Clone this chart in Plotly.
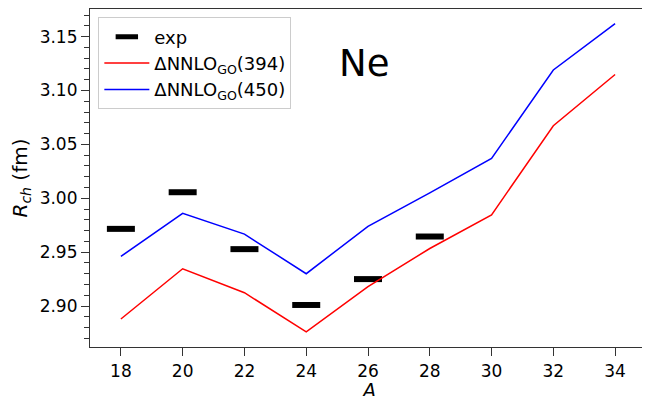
import plotly.graph_objects as go

A = [18, 20, 22, 24, 26, 28, 30, 32, 34]
A_exp = [18, 20, 22, 24, 26, 28]
R_exp = [2.9716, 3.0056, 2.9528, 2.9010, 2.9250, 2.9645]
R_394 = [2.888, 2.9346, 2.9124, 2.876, 2.918, 2.9534, 2.9846, 3.0673, 3.1148]
R_450 = [2.946, 2.986, 2.9667, 2.930, 2.974, 3.005, 3.037, 3.119, 3.162]
x_ticks = [18, 20, 22, 24, 26, 28, 30, 32, 34]
y_ticks = [2.90, 2.95, 3.00, 3.05, 3.10, 3.15]

font = "DejaVu Sans"

fig = go.Figure()
fig.add_trace(go.Scatter(
    x=A_exp, y=R_exp, mode="markers", name="exp", legendgroup="a",
    marker=dict(symbol="line-ew", size=20, color="black",
                line=dict(width=6, color="black")),
))
fig.add_trace(go.Scatter(
    x=A, y=R_394, mode="lines", name="ΔNNLO<sub>GO</sub>(394)", legendgroup="b",
    line=dict(color="red", width=1.5),
))
fig.add_trace(go.Scatter(
    x=A, y=R_450, mode="lines", name="ΔNNLO<sub>GO</sub>(450)", legendgroup="c",
    line=dict(color="blue", width=1.5),
))

fig.add_annotation(
    text="Ne", x=0.444, y=0.84, xref="paper", yref="paper",
    xanchor="left", yanchor="middle", showarrow=False,
    font=dict(family=font, size=37, color="black"),
)
fig.add_annotation(
    text="<i>A</i>", x=0.5, y=-0.088, xref="paper", yref="paper",
    xanchor="center", yanchor="top", showarrow=False,
    font=dict(family=font, size=19, color="black"),
)

axis_common = dict(
    showgrid=False, zeroline=False, showline=True, linecolor="#333333",
    linewidth=1.2, mirror=True, ticks="outside", ticklen=8, tickwidth=1.2,
    tickcolor="#333333", tickfont=dict(family=font, size=17, color="black"),
    automargin=False,
)

fig.update_xaxes(range=[17, 35], tickvals=x_ticks, **axis_common)
fig.update_yaxes(
    range=[2.862, 3.1756], tickvals=y_ticks, ticktext=[f"{v:.2f}" for v in y_ticks],
    minor=dict(dtick=0.01, ticks="outside", ticklen=5, tickwidth=1.2, tickcolor="#333333"),
    title=dict(text="<i>R<sub>ch</sub></i> (fm)", font=dict(family=font, size=20, color="black"), standoff=6),
    **axis_common,
)

# page body has an 8px margin, so the figure is offset by (8, 8)
fig.update_layout(
    width=642, height=388,
    margin=dict(l=82, r=4, t=1, b=49),
    paper_bgcolor="white", plot_bgcolor="white",
    showlegend=True,
    legend=dict(
        x=0.015, y=0.975, xanchor="left", yanchor="top",
        bgcolor="rgba(255,255,255,0.8)", bordercolor="#cccccc", borderwidth=1,
        font=dict(family=font, size=18, color="black"),
        tracegroupgap=0, itemwidth=45, traceorder="grouped",
    ),
)

fig.write_html("out.html")
